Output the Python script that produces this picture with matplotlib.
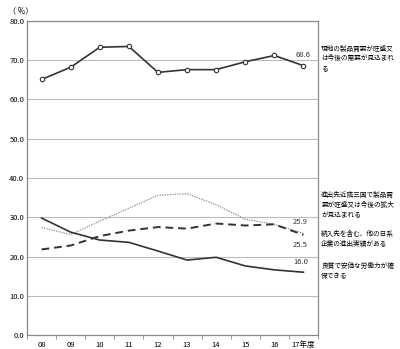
import numpy as np
import matplotlib.pyplot as plt

plt.rcParams['font.family'] = ['Noto Sans CJK JP', 'DejaVu Sans']

years = ["08", "09", "10", "11", "12", "13", "14", "15", "16", "17年度"]
demand_local = [65.1, 68.2, 73.3, 73.5, 66.9, 67.6, 67.6, 69.6, 71.2, 68.6]
demand_neighbor = [27.4, 25.6, 29.0, 32.3, 35.6, 36.0, 33.2, 29.5, 28.2, 25.9]
japanese_firms = [21.8, 22.8, 25.2, 26.6, 27.5, 27.1, 28.4, 27.9, 28.2, 25.5]
labor = [29.8, 26.2, 24.2, 23.6, 21.4, 19.1, 19.8, 17.6, 16.6, 16.0]

labels = [
    "現地の製品需要が旺盛又\nは今後の需要が見込まれ\nる",
    "進出先近隣三国で製品需\n要が旺盛又は今後の拡大\nが見込まれる",
    "納入先を含む、他の日系\n企業の進出実績がある",
    "良質で安価な労働力が確\n保できる",
]

fig = plt.figure(figsize=(4.0, 3.49), dpi=100)
ax = fig.add_axes([0.0675, 0.04, 0.7275, 0.9])
x = np.arange(len(years))

ax.plot(x, demand_local, color="#333333", lw=1.2, marker="o", ms=3.2,
        mfc="white", mec="#333333", mew=0.8, zorder=4)
ax.plot(x, demand_neighbor, color="#888888", lw=0.9, ls=(0, (1, 1)), zorder=3)
ax.plot(x, japanese_firms, color="#333333", lw=1.4, ls=(0, (4, 2.5)), zorder=3)
ax.plot(x, labor, color="#333333", lw=1.2, zorder=3)

ax.set_xlim(-0.5, len(years) - 0.5)
ax.set_ylim(0, 80)
ax.set_yticks(np.arange(0, 81, 10))
ax.set_yticklabels([f"{v:.1f}" for v in range(0, 81, 10)])
ax.set_xticks(x)
ax.set_xticklabels(years)
ax.set_xticks(np.arange(-0.5, len(years), 1), minor=True)
ax.tick_params(axis="x", which="major", length=0, labelsize=5.5, pad=4)
ax.tick_params(axis="x", which="minor", length=3, color="#888888")
ax.tick_params(axis="y", length=0, labelsize=5.5, pad=2)
ax.yaxis.grid(True, color="#bbbbbb", lw=0.8)
ax.set_axisbelow(True)
for s in ax.spines.values():
    s.set_color("#888888")
    s.set_linewidth(0.9)

ax.text(len(years) - 1, demand_local[-1] + 1.6, f"{demand_local[-1]:.1f}",
        ha="center", va="bottom", fontsize=5.5, color="#333333")
ax.text(len(years) - 1.1, demand_neighbor[-1] + 1.8, f"{demand_neighbor[-1]:.1f}",
        ha="center", va="bottom", fontsize=5.5, color="#333333")
ax.text(len(years) - 1.1, japanese_firms[-1] - 1.6, f"{japanese_firms[-1]:.1f}",
        ha="center", va="top", fontsize=5.5, color="#333333")
ax.text(len(years) - 1.1, labor[-1] + 1.6, f"{labor[-1]:.1f}",
        ha="center", va="bottom", fontsize=5.5, color="#333333")

fig.text(0.02, 0.982, "（ %）", ha="left", va="top", fontsize=5.8)

label_y = [0.872, 0.452, 0.34, 0.248]
for t, yy in zip(labels, label_y):
    fig.text(0.803, yy, t, ha="left", va="top", fontsize=4.8, linespacing=1.3)

fig.savefig("out.png", dpi=100)
